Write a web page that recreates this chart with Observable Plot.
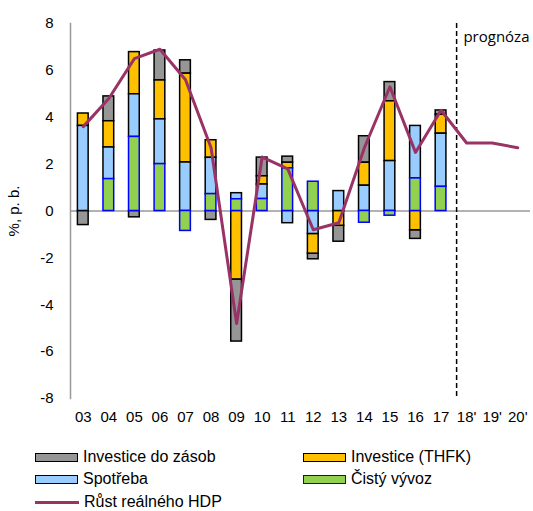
<!DOCTYPE html>
<html><head><meta charset="utf-8">
<script src="https://cdn.jsdelivr.net/npm/d3@7"></script>
<script src="https://cdn.jsdelivr.net/npm/@observablehq/plot@0.6"></script>
<style>
body{margin:0;background:#fff;font-family:"Liberation Sans",Arial,sans-serif;}
#chart{position:relative;width:533px;height:511px;}
.leg{position:absolute;font-size:16px;color:#000;line-height:20px;height:20px;display:flex;align-items:center;white-space:nowrap;}
.sw{width:41px;height:7px;border:1.5px solid #000;margin-right:5px;}
.ln{width:44px;height:3px;background:#993366;margin-right:5px;}
</style></head><body><div id="chart"></div>
<script>
const years = ["03","04","05","06","07","08","09","10","11","12","13","14","15","16","17"];
const forecastYears = ["18'","19'","20'"];
const seriesNames = ["Investice do zásob","Investice (THFK)","Spotřeba","Čistý vývoz"];
const zasoby   = [-0.6, 1.06, -0.27, 1.28, 0.57, -0.38, -2.65, 0.8, 0.26, -0.24, -0.68, 1.13, 0.82, -0.37, 0.18];
const thfk     = [0.53, 1.12, 1.8, 1.66, 3.79, 0.75, -2.92, 0.35, 0.24, -0.84, -0.63, 0.98, 2.55, -0.82, 0.81];
const spotreba = [3.63, 1.35, 1.82, 1.91, 2.07, 1.55, 0.26, 0.62, -0.52, -0.98, 0.85, 1.08, 2.13, 2.24, 2.27];
const vyvoz    = [0.0, 1.36, 3.16, 2.0, -0.85, 0.72, 0.5, 0.51, 1.82, 1.25, 0.0, -0.5, -0.2, 1.39, 1.03];
const gdp      = [3.6, 4.8, 6.5, 6.9, 5.6, 2.7, -4.8, 2.3, 1.8, -0.8, -0.5, 2.7, 5.3, 2.5, 4.3, 2.9, 2.9, 2.7];
const yTicks = [-8,-6,-4,-2,0,2,4,6,8];
const gdpLabel = "Růst reálného HDP";
const forecastLabel = "prognóza";
const yTitle = "%, p. b.";

const fillColors = {"Investice do zásob":"#969696","Investice (THFK)":"#FFC000","Spotřeba":"#99CCFF","Čistý vývoz":"#92D050"};
const strokeColors = {"Investice do zásob":"#000","Investice (THFK)":"#000","Spotřeba":"#000","Čistý vývoz":"#0000FF"};
const seriesValues = [zasoby, thfk, spotreba, vyvoz];

const barData = [];
seriesNames.forEach((s, i) => years.forEach((y, j) => {
  if (seriesValues[i][j] !== 0) barData.push({year: y, series: s, value: seriesValues[i][j]});
}));
const allYears = years.concat(forecastYears);
const lineData = allYears.map((y, i) => ({year: y, gdp: gdp[i]}));
const stackOrder = ["Čistý vývoz","Spotřeba","Investice (THFK)","Investice do zásob"];

const font = '"Liberation Sans", Arial, sans-serif';
const chart = Plot.plot({
  width: 533, height: 435,
  marginLeft: 70, marginRight: 3, marginTop: 23, marginBottom: 37,
  style: {fontFamily: font, fontSize: "15px", color: "#000", background: "#fff"},
  x: {domain: allYears, paddingInner: 0.58, paddingOuter: 0.29, round: false},
  y: {domain: [-8, 8]},
  color: {type: "identity"},
  marks: [
    Plot.frame({anchor: "left", stroke: "#999", strokeWidth: 1.5}),
    Plot.ruleY([0], {stroke: "#999", strokeWidth: 1.5}),
    Plot.barY(barData, {x: "year", y: "value", z: "series", order: stackOrder,
      fill: d => fillColors[d.series], stroke: d => strokeColors[d.series], strokeWidth: 1.5}),
    Plot.ruleX([forecastYears[0]], {dx: -10, stroke: "#000", strokeWidth: 1.5, strokeDasharray: "5,3"}),
    Plot.lineY(lineData, {x: "year", y: "gdp", stroke: "#993366", strokeWidth: 3}),
    Plot.text([forecastLabel], {frameAnchor: "top-right", textAnchor: "end", dx: -1, dy: 8, fontSize: 15, fontFamily: '"Open Sans", sans-serif'}),
    Plot.axisY({ticks: yTicks, tickFormat: d => String(d), tickSize: 0, tickPadding: 17, fontSize: 15, label: yTitle, labelAnchor: "center", labelArrow: "none", labelOffset: 62}),
    Plot.axisX({tickSize: 0, tickPadding: 13, fontSize: 15, label: null})
  ]
});
const root = document.getElementById("chart");
root.appendChild(chart);

const legendItems = [
  {name: seriesNames[0], left: 35, top: 447},
  {name: seriesNames[1], left: 303, top: 447},
  {name: seriesNames[2], left: 35, top: 469},
  {name: seriesNames[3], left: 303, top: 469},
  {name: gdpLabel, left: 35, top: 492, line: true}
];
legendItems.forEach(it => {
  const d = document.createElement("div");
  d.className = "leg";
  d.style.left = it.left + "px";
  d.style.top = it.top + "px";
  const sw = document.createElement("div");
  if (it.line) sw.className = "ln";
  else {
    sw.className = "sw";
    sw.style.background = fillColors[it.name];
    sw.style.borderColor = strokeColors[it.name];
  }
  d.appendChild(sw);
  const t = document.createElement("span");
  t.textContent = it.name;
  d.appendChild(t);
  root.appendChild(d);
});
</script></body></html>
